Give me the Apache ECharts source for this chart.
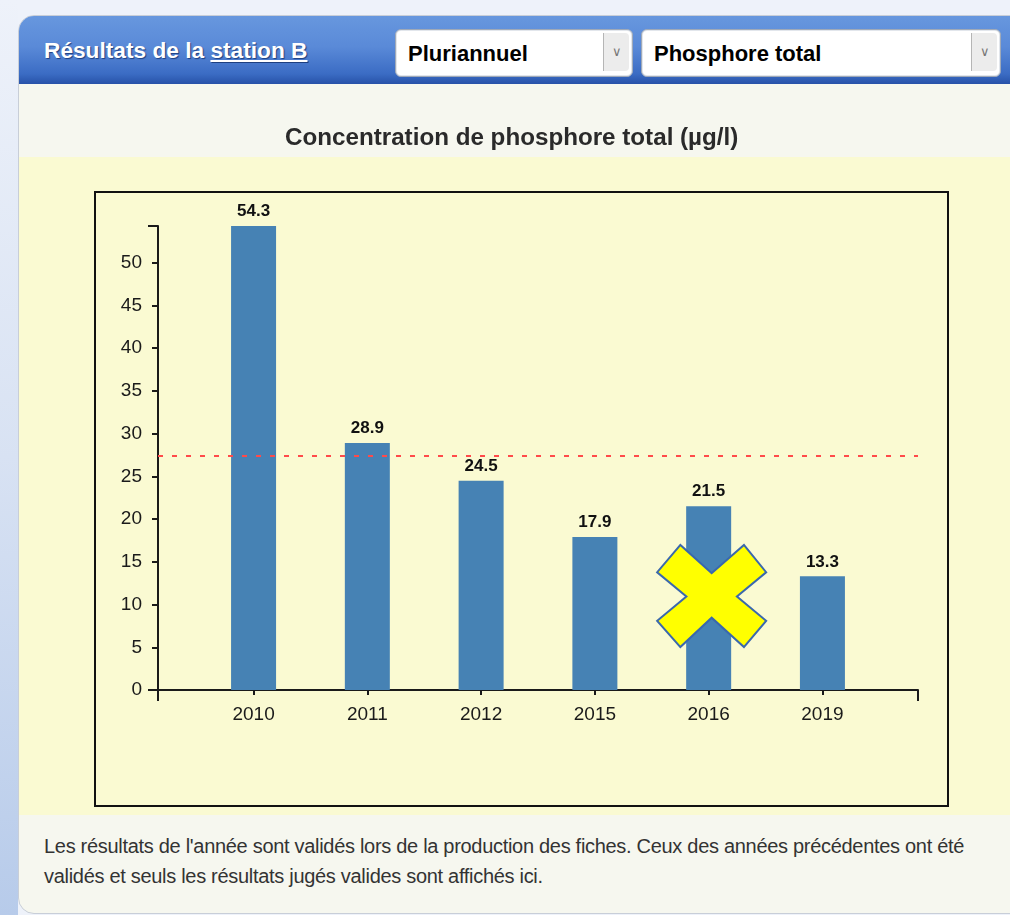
<!DOCTYPE html>
<html>
<head>
<meta charset="utf-8">
<script src="https://cdn.jsdelivr.net/npm/echarts@6/dist/echarts.min.js"></script>
<style>
  html, body { margin: 0; padding: 0; width: 1010px; height: 915px; overflow: hidden; }
  body { background: #eef2fa; font-family: "Liberation Sans", Arial, sans-serif; position: relative; }
  #strip { position: absolute; left: 0; top: 0; width: 18px; height: 915px;
    background: linear-gradient(to bottom, #eef2fa 0%, #d8e2f3 50%, #b7cbea 100%); }
  #panel { position: absolute; left: 18px; top: 15px; width: 1010px; height: 897px;
    background: #f6f7ef; border: 1px solid #c8ced8; border-radius: 16px 0 0 16px; overflow: hidden; }
  #header { position: absolute; left: 0; top: 0; width: 100%; height: 68px;
    background: linear-gradient(to bottom, #6797de 0%, #5a8ad8 45%, #3b6cc4 85%, #2752a8 100%); }
  #htitle { position: absolute; left: 25px; top: 21px; color: #fff; font-weight: bold; font-size: 22.7px;
    text-shadow: 1px 1px 1px #1d3f80; white-space: nowrap; }
  #htitle u { text-decoration: underline; }
  .sel { position: absolute; top: 13px; height: 46px; background: #fff; border: 1px solid #9fa9b8;
    border-radius: 6px; box-shadow: inset 0 0 0 1px #e2e6ec; }
  .sel span { position: absolute; left: 12px; top: 11px; font-weight: bold; font-size: 22px; color: #000; white-space: nowrap; }
  .arr { position: absolute; top: 3px; right: 3px; width: 25px; height: 38px; background: #ececec;
    border-left: 1px solid #b5b5b5; border-radius: 0 4px 4px 0; color: #777; font-size: 13px; text-align: center; line-height: 38px; }
  #yellow { position: absolute; left: 0; top: 141px; width: 100%; height: 658px; background: #fafad2; }
  #box { position: absolute; left: 94px; top: 191px; width: 851px; height: 612px; border: 2px solid #111; }
  #foot { position: absolute; left: 44px; top: 831px; width: 950px; font-size: 20px; line-height: 30px; color: #333;
    letter-spacing: -0.3px; }
  #chart { position: absolute; left: 0; top: 0; width: 1010px; height: 915px; }
</style>
</head>
<body>
<div id="strip"></div>
<div id="panel">
  <div id="header">
    <div id="htitle">Résultats de la <u>station B</u></div>
    <div class="sel" style="left:376px; width:236px;"><span>Pluriannuel</span><div class="arr">&#8744;</div></div>
    <div class="sel" style="left:622px; width:358px;"><span>Phosphore total</span><div class="arr">&#8744;</div></div>
  </div>
  <div id="yellow"></div>
</div>
<div id="box"></div>
<div id="foot">Les résultats de l'année sont validés lors de la production des fiches. Ceux des années précédentes ont été validés et seuls les résultats jugés valides sont affichés ici.</div>
<div id="chart"></div>
<script>
// ---- data ----
const years = ['2010', '2011', '2012', '2015', '2016', '2019'];
const values = [54.3, 28.9, 24.5, 17.9, 21.5, 13.3];
const threshold = 27.4;
const flaggedYearIndex = [4];
const flaggedMarkY = [11.0];
const yTicks = [0, 5, 10, 15, 20, 25, 30, 35, 40, 45, 50];
const chartTitle = 'Concentration de phosphore total (µg/l)';

// ---- chart ----
const xMin = -0.84, xMax = values.length - 1 + 0.84;
const yMax = Math.max(...values);
const idx = years.map((_, i) => i);
const font = '"Liberation Sans", Arial, sans-serif';
const axisCol = '#1a1a1a';

const chart = echarts.init(document.getElementById('chart'), null, { renderer: 'canvas' });
chart.setOption({
  animation: false,
  backgroundColor: 'transparent',
  title: {
    text: chartTitle, left: 280, top: 121,
    textStyle: { fontFamily: font, fontSize: 24.2, fontWeight: 'bold', color: '#2a2a2a' }
  },
  grid: { left: 158, right: 92, top: 226, bottom: 225, containLabel: false },
  xAxis: [
    {
      type: 'value', min: xMin, max: xMax,
      axisLine: { show: true, onZero: false, lineStyle: { color: axisCol, width: 2 } },
      axisTick: { show: true, customValues: idx, length: 5, lineStyle: { color: axisCol, width: 2 } },
      axisLabel: { show: true, customValues: idx, formatter: v => years[Math.round(v)] || '',
        margin: 15, fontFamily: font, fontSize: 19, color: '#1a1a1a' },
      splitLine: { show: false }
    },
    {
      type: 'value', min: xMin, max: xMax, position: 'bottom',
      axisLine: { show: false, onZero: false },
      axisTick: { show: true, customValues: [xMin, xMax], length: 11, lineStyle: { color: axisCol, width: 2 } },
      axisLabel: { show: false },
      splitLine: { show: false }
    }
  ],
  yAxis: [
    {
      type: 'value', min: 0, max: yMax, interval: 5,
      axisLine: { show: true, onZero: false, lineStyle: { color: axisCol, width: 2 } },
      axisTick: { show: true, length: 6, lineStyle: { color: axisCol, width: 2 } },
      axisLabel: { show: true, customValues: yTicks, margin: 16, fontFamily: font, fontSize: 19, color: '#1a1a1a' },
      splitLine: { show: false }
    },
    {
      type: 'value', min: 0, max: yMax, position: 'left',
      axisLine: { show: false, onZero: false },
      axisTick: { show: true, customValues: [0, yMax], length: 10, lineStyle: { color: axisCol, width: 2 } },
      axisLabel: { show: false },
      splitLine: { show: false }
    }
  ],
  series: [
    {
      type: 'bar', xAxisIndex: 0, yAxisIndex: 0,
      data: idx.map(i => [i, values[i]]),
      barWidth: 45,
      itemStyle: { color: '#4682b4' },
      label: { show: true, position: 'top', distance: 6, fontFamily: font, fontSize: 17, fontWeight: 'bold',
        color: '#111', formatter: p => p.value[1].toFixed(1) },
      markLine: {
        silent: true, symbol: 'none',
        label: { show: false },
        lineStyle: { color: '#ff4a4a', type: [5, 9], width: 2 },
        data: [{ yAxis: threshold }]
      }
    },
    {
      type: 'scatter', xAxisIndex: 0, yAxisIndex: 0, z: 10,
      data: flaggedYearIndex.map((i, k) => [i, flaggedMarkY[k]]),
      symbol: 'path://M0,27 L23,0 L54,28 L86,0 L108,27 L79,51 L108,75 L86,101 L54,72 L23,101 L0,75 L29,51 Z',
      symbolSize: [109, 102],
      symbolOffset: [3, 0],
      itemStyle: { color: '#ffff00', borderColor: '#3a68ad', borderWidth: 2, opacity: 1 }
    }
  ]
});
</script>
</body>
</html>
